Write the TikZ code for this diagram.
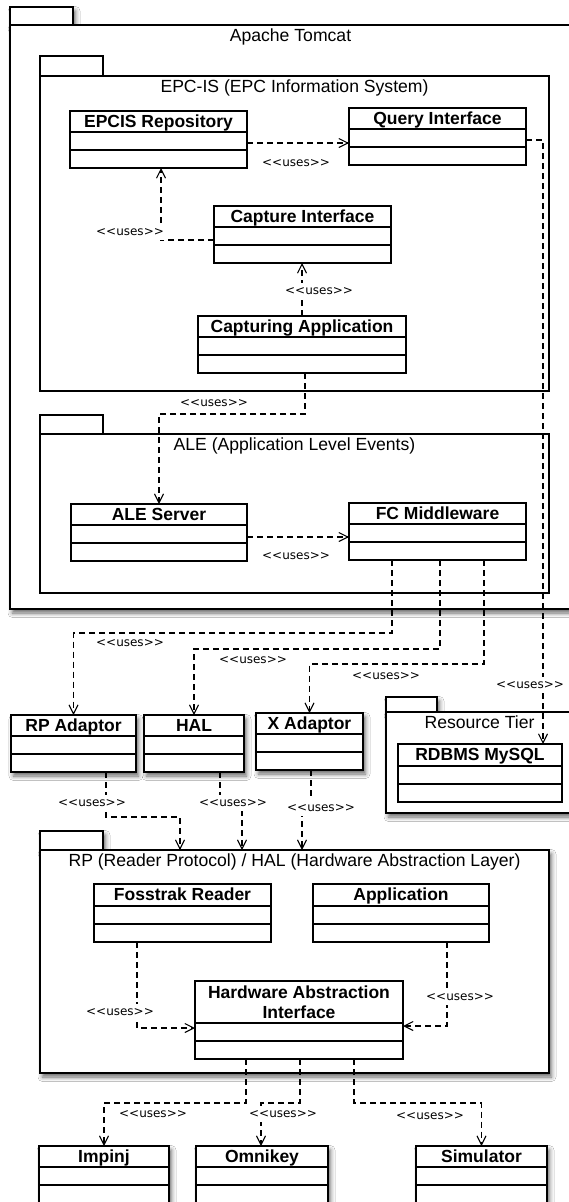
\documentclass[tikz,border=0pt]{standalone}
\usepackage{fontspec}
\setmainfont{Liberation Sans}
\newfontfamily\labfont{DejaVu Sans}
\usetikzlibrary{arrows.meta,shadows.blur,calc}

\tikzset{
  clsbox/.style={draw=black, fill=white, line width=1.3pt, rectangle, inner sep=0pt, outer sep=0pt},
  shad/.style={blur shadow={shadow xshift=2.5pt, shadow yshift=-4pt, shadow blur radius=4.5pt, shadow opacity=60}},
  clsline/.style={line width=1.3pt},
  clsname/.style={font=\bfseries\fontsize{17.5}{20}\selectfont, inner sep=0pt, anchor=base},
  pkgbox/.style={draw=black, fill=white, line width=1.3pt, rectangle, inner sep=0pt, outer sep=0pt},
  pkgtitle/.style={font=\fontsize{17.6}{20}\selectfont, inner sep=0pt, anchor=base},
  uses/.style={draw=black, line width=1.2pt, dash pattern=on 6pt off 4pt,
    -{Straight Barb[length=9pt,width=9pt,line width=1.1pt]}},
  useslab/.style={font=\labfont\fontsize{12}{14}\selectfont, fill=white, inner xsep=3pt,
    inner ysep=0pt, minimum height=16pt},
}

% class: [opts]{name}{x}{ytop}{width}{header height}{title}
\newcommand\umlclass[7][]{%
  \pgfmathsetmacro\clsH{#6+36}%
  \node[clsbox,#1,minimum width=#5pt,minimum height=\clsH pt,anchor=north west] (#2) at (#3,#4) {};
  \draw[clsline] ([yshift=-#6pt]#2.north west) -- ([yshift=-#6pt]#2.north east);
  \draw[clsline] ([yshift=-#6pt-18pt]#2.north west) -- ([yshift=-#6pt-18pt]#2.north east);
  \node[clsname] (#2-name) at ([yshift=-16.5pt]#2.north) {#7};
}

% package: [opts]{name}{x1}{ytabtop}{x2}{ybottom}{tabw}{tabh}{title}
\newcommand\umlpkg[9][]{%
  \pgfmathsetmacro\pkW{#5-#3}%
  \pgfmathsetmacro\pkH{#6-#4-#8}%
  \node[pkgbox,#1,minimum width=#7pt,minimum height=#8pt,anchor=north west] (#2-tab) at (#3,#4) {};
  \node[pkgbox,#1,minimum width=\pkW pt,minimum height=\pkH pt,anchor=north west] (#2) at (#3,#4+#8) {};
  \node[pkgtitle] (#2-title) at ([yshift=-16.5pt]#2.north) {#9};
}

\begin{document}
\begin{tikzpicture}[x=1pt,y=-1pt]
\useasboundingbox (0,0) rectangle (569,1202);
\fill[white] (0,0) rectangle (569,1202);

% packages
\umlpkg[shad]{tomcat}{10}{7}{571}{609}{63}{18}{Apache Tomcat}
\umlpkg{epcis}{40}{56}{549}{391}{63}{20}{EPC-IS (EPC Information System)}
\umlpkg{ale}{40}{415}{549}{593}{63}{19}{ALE (Application Level Events)}
\umlpkg[shad]{restier}{386}{697}{573}{813}{51}{15}{Resource Tier}
\umlpkg[shad]{rp}{40}{831}{549}{1073}{63}{19}{RP (Reader Protocol) / HAL (Hardware Abstraction Layer)}

% classes
\umlclass{repo}{70}{111}{177}{21}{EPCIS Repository}
\umlclass{query}{349}{108}{177}{21}{Query Interface}
\umlclass{capif}{214}{206}{177}{21}{Capture Interface}
\umlclass{capapp}{198}{316}{208}{21}{Capturing Application}
\umlclass{aleserver}{71}{504}{176}{21}{ALE Server}
\umlclass{fcmw}{349}{503}{177}{21}{FC Middleware}
\umlclass[shad]{rpad}{11}{715}{125}{21}{RP Adaptor}
\umlclass[shad]{hal}{144}{715}{100}{21}{HAL}
\umlclass[shad]{xad}{256}{713}{107}{21}{X Adaptor}
\umlclass{mysql}{398}{744}{164}{22}{RDBMS MySQL}
\umlclass{foss}{94}{884}{177}{22}{Fosstrak Reader}
\umlclass{app}{313}{884}{176}{22}{Application}
\umlclass{hai}{195}{981}{208}{42}{}
\node[clsname, anchor=center, align=center] (hai-title) at ([yshift=-21pt]hai.north)
  {Hardware Abstraction\\Interface};
\umlclass[shad]{impinj}{39}{1146}{130}{21}{Impinj}
\umlclass[shad]{omni}{196}{1146}{132}{21}{Omnikey}
\umlclass[shad]{sim}{416}{1146}{131}{21}{Simulator}

% connectors
\draw[uses] ([yshift=-32pt]repo.north east) -- ([yshift=-35pt]query.north west);
\draw[uses] ([yshift=-34pt]capif.north west) -| ([xshift=2.5pt]repo.south);
\draw[uses] (capapp.north) -- (capapp.north |- capif.south);
\draw[uses] ([xshift=3pt]capapp.south) -- ++(0,41) -| (aleserver.north);
\draw[uses] ([yshift=-33pt]aleserver.north east) -- ([yshift=-34pt]fcmw.north west);
\draw[uses] ([yshift=-32pt]query.north east) -| ([xshift=63pt]mysql.north);
\draw[uses] ([xshift=-45.5pt]fcmw.south) -- ++(0,73) -| (rpad.north);
\draw[uses] ([xshift=2.5pt]fcmw.south) -- ++(0,89) -| (hal.north);
\draw[uses] ([xshift=46.5pt]fcmw.south) -- ++(0,104) -| (xad.north);
\draw[uses] ([xshift=32.5pt]rpad.south) -- ++(0,45) -| ([xshift=-114.5pt]rp.north);
\draw[uses] ([xshift=26pt]hal.south) -- ++(0,31) -| ([xshift=-52.5pt]rp.north);
\draw[uses] ([xshift=1.5pt]xad.south) -- ++(0,37) -| ([xshift=7.5pt]rp.north);
\draw[uses] ([xshift=-45.5pt]foss.south) |- ([yshift=-47pt]hai.north west);
\draw[uses] ([xshift=46pt]app.south) |- ([yshift=-45pt]hai.north east);
\draw[uses] ([xshift=-53pt]hai.south) -- ++(0,44) -| (impinj.north);
\draw[uses] ([xshift=1pt]hai.south) -- ++(0,44) -| ([xshift=-1pt]omni.north);
\draw[uses] ([xshift=55pt]hai.south) -- ++(0,44) -| (sim.north);

% labels
\node[useslab] (l1) at (296,163) {<<uses>>};
\node[useslab] (l2) at (130,232) {<<uses>>};
\node[useslab] (l3) at (319,291) {<<uses>>};
\node[useslab] (l4) at (214,403) {<<uses>>};
\node[useslab] (l5) at (296,556) {<<uses>>};
\node[useslab] (l6) at (530,685) {<<uses>>};
\node[useslab] (l7) at (130,643) {<<uses>>};
\node[useslab] (l8) at (253,660) {<<uses>>};
\node[useslab] (l9) at (386,676) {<<uses>>};
\node[useslab] (l10) at (92,803) {<<uses>>};
\node[useslab] (l11) at (233,803) {<<uses>>};
\node[useslab] (l12) at (321,808) {<<uses>>};
\node[useslab] (l13) at (120,1012) {<<uses>>};
\node[useslab] (l14) at (460,997) {<<uses>>};
\node[useslab] (l15) at (153,1114) {<<uses>>};
\node[useslab] (l16) at (283,1114) {<<uses>>};
\node[useslab] (l17) at (430,1116) {<<uses>>};
\end{tikzpicture}
\end{document}
